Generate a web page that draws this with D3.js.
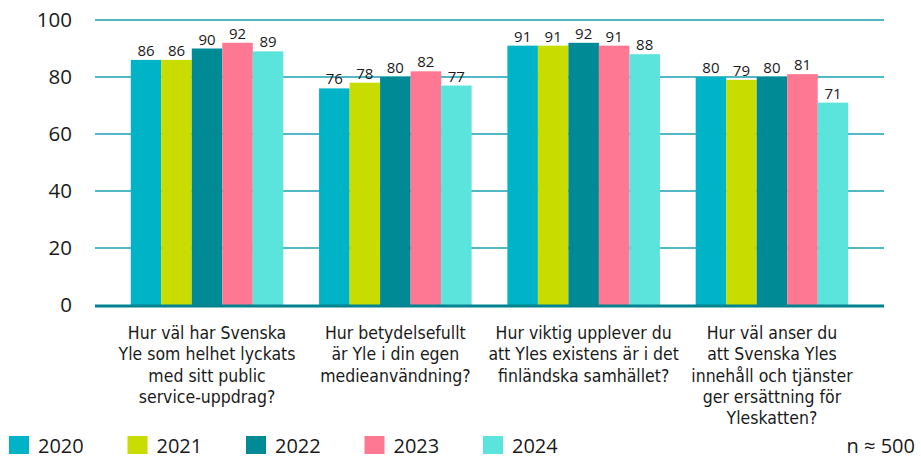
<!DOCTYPE html>
<html>
<head>
<meta charset="utf-8">
<script src="https://cdn.jsdelivr.net/npm/d3@7"></script>
<style>
  body { margin: 0; background: #fff; }
  svg { display: block; font-family: "Open Sans", "Noto Sans", sans-serif; }
  .question { font-family: "Liberation Sans Narrow", "DejaVu Sans Condensed", sans-serif; }
</style>
</head>
<body>
<svg id="chart" width="921" height="459"></svg>
<script>
// Survey questions, one group of bars each
var categories = [
    ["Hur väl har Svenska", "Yle som helhet lyckats", "med sitt public", "service-uppdrag?"],
    ["Hur betydelsefullt", "är Yle i din egen", "medieanvändning?"],
    ["Hur viktig upplever du", "att Yles existens är i det", "finländska samhället?"],
    ["Hur väl anser du", "att Svenska Yles", "innehåll och tjänster", "ger ersättning för", "Yleskatten?"]
];
var years = ["2020", "2021", "2022", "2023", "2024"];
var colors = ["#00b3c7", "#c8dc00", "#008a96", "#ff7893", "#5ae4dc"];

// share per year, same order as categories
var v2020 = [86, 76, 91, 80];
var v2021 = [86, 78, 91, 79];
var v2022 = [90, 80, 92, 80];
var v2023 = [92, 82, 91, 81];
var v2024 = [89, 77, 88, 71];
var series = [v2020, v2021, v2022, v2023, v2024];

var yTicks = [0, 20, 40, 60, 80, 100];

var svg = d3.select("#chart");
var plotLeft = 95, plotRight = 884, plotTop = 20, plotBottom = 305;

var x0 = d3.scaleBand()
    .domain(d3.range(categories.length))
    .range([plotLeft, plotRight])
    .padding(0.19);
var x1 = d3.scaleBand()
    .domain(years)
    .range([0, x0.bandwidth()]);
var y = d3.scaleLinear().domain([0, 100]).range([plotBottom, plotTop]);

// Gridlines; the bars simply cover them
svg.append("g").selectAll("line")
    .data(yTicks.filter(function (d) { return d > 0; }))
    .enter().append("line")
    .attr("x1", plotLeft).attr("x2", plotRight)
    .attr("y1", function (d) { return y(d); })
    .attr("y2", function (d) { return y(d); })
    .attr("stroke", "#1a9fb0")
    .attr("stroke-width", 1.6);

svg.append("g").selectAll("text")
    .data(yTicks)
    .enter().append("text")
    .attr("x", 72)
    .attr("y", function (d) { return y(d); })
    .attr("dy", "0.36em")
    .attr("text-anchor", "end")
    .attr("font-size", 20.5)
    .attr("fill", "#1a1a1a")
    .text(function (d) { return d; });

// Bars
var groups = svg.append("g").selectAll("g")
    .data(categories)
    .enter().append("g")
    .attr("transform", function (d, i) { return "translate(" + x0(i) + ",0)"; });

groups.each(function (cat, ci) {
    var g = d3.select(this);
    years.forEach(function (yr, si) {
        var v = series[si][ci];
        g.append("rect")
            .attr("x", x1(yr))
            .attr("y", y(v))
            .attr("width", x1.bandwidth())
            .attr("height", y(0) - y(v))
            .attr("fill", colors[si]);
        g.append("text")
            .attr("x", x1(yr) + x1.bandwidth() / 2)
            .attr("y", y(v) - 4)
            .attr("text-anchor", "middle")
            .attr("font-size", 15)
            .attr("fill", "#1a1a1a")
            .text(v);
    });

    // Question text under each group
    var t = g.append("text")
        .attr("class", "question")
        .attr("text-anchor", "middle")
        .attr("font-size", 17.5)
        .attr("fill", "#1a1a1a");
    cat.forEach(function (line, li) {
        t.append("tspan")
            .attr("x", x0.bandwidth() / 2)
            .attr("y", 339 + li * 21.3)
            .text(line);
    });
});

// Baseline
svg.append("line")
    .attr("x1", plotLeft).attr("x2", plotRight)
    .attr("y1", y(0) + 1).attr("y2", y(0) + 1)
    .attr("stroke", "#00838f")
    .attr("stroke-width", 3);

// Legend
var legend = svg.append("g").selectAll("g")
    .data(years)
    .enter().append("g")
    .attr("transform", function (d, i) { return "translate(" + (9 + i * 118.5) + ",436)"; });
legend.append("rect")
    .attr("width", 20).attr("height", 18)
    .attr("fill", function (d, i) { return colors[i]; });
legend.append("text")
    .attr("x", 29).attr("y", 16.5)
    .attr("font-size", 20)
    .attr("fill", "#1a1a1a")
    .text(function (d) { return d; });

svg.append("text")
    .attr("x", 915).attr("y", 452.5)
    .attr("text-anchor", "end")
    .attr("font-size", 20)
    .attr("fill", "#1a1a1a")
    .text("n ≈ 500");
</script>
</body>
</html>
